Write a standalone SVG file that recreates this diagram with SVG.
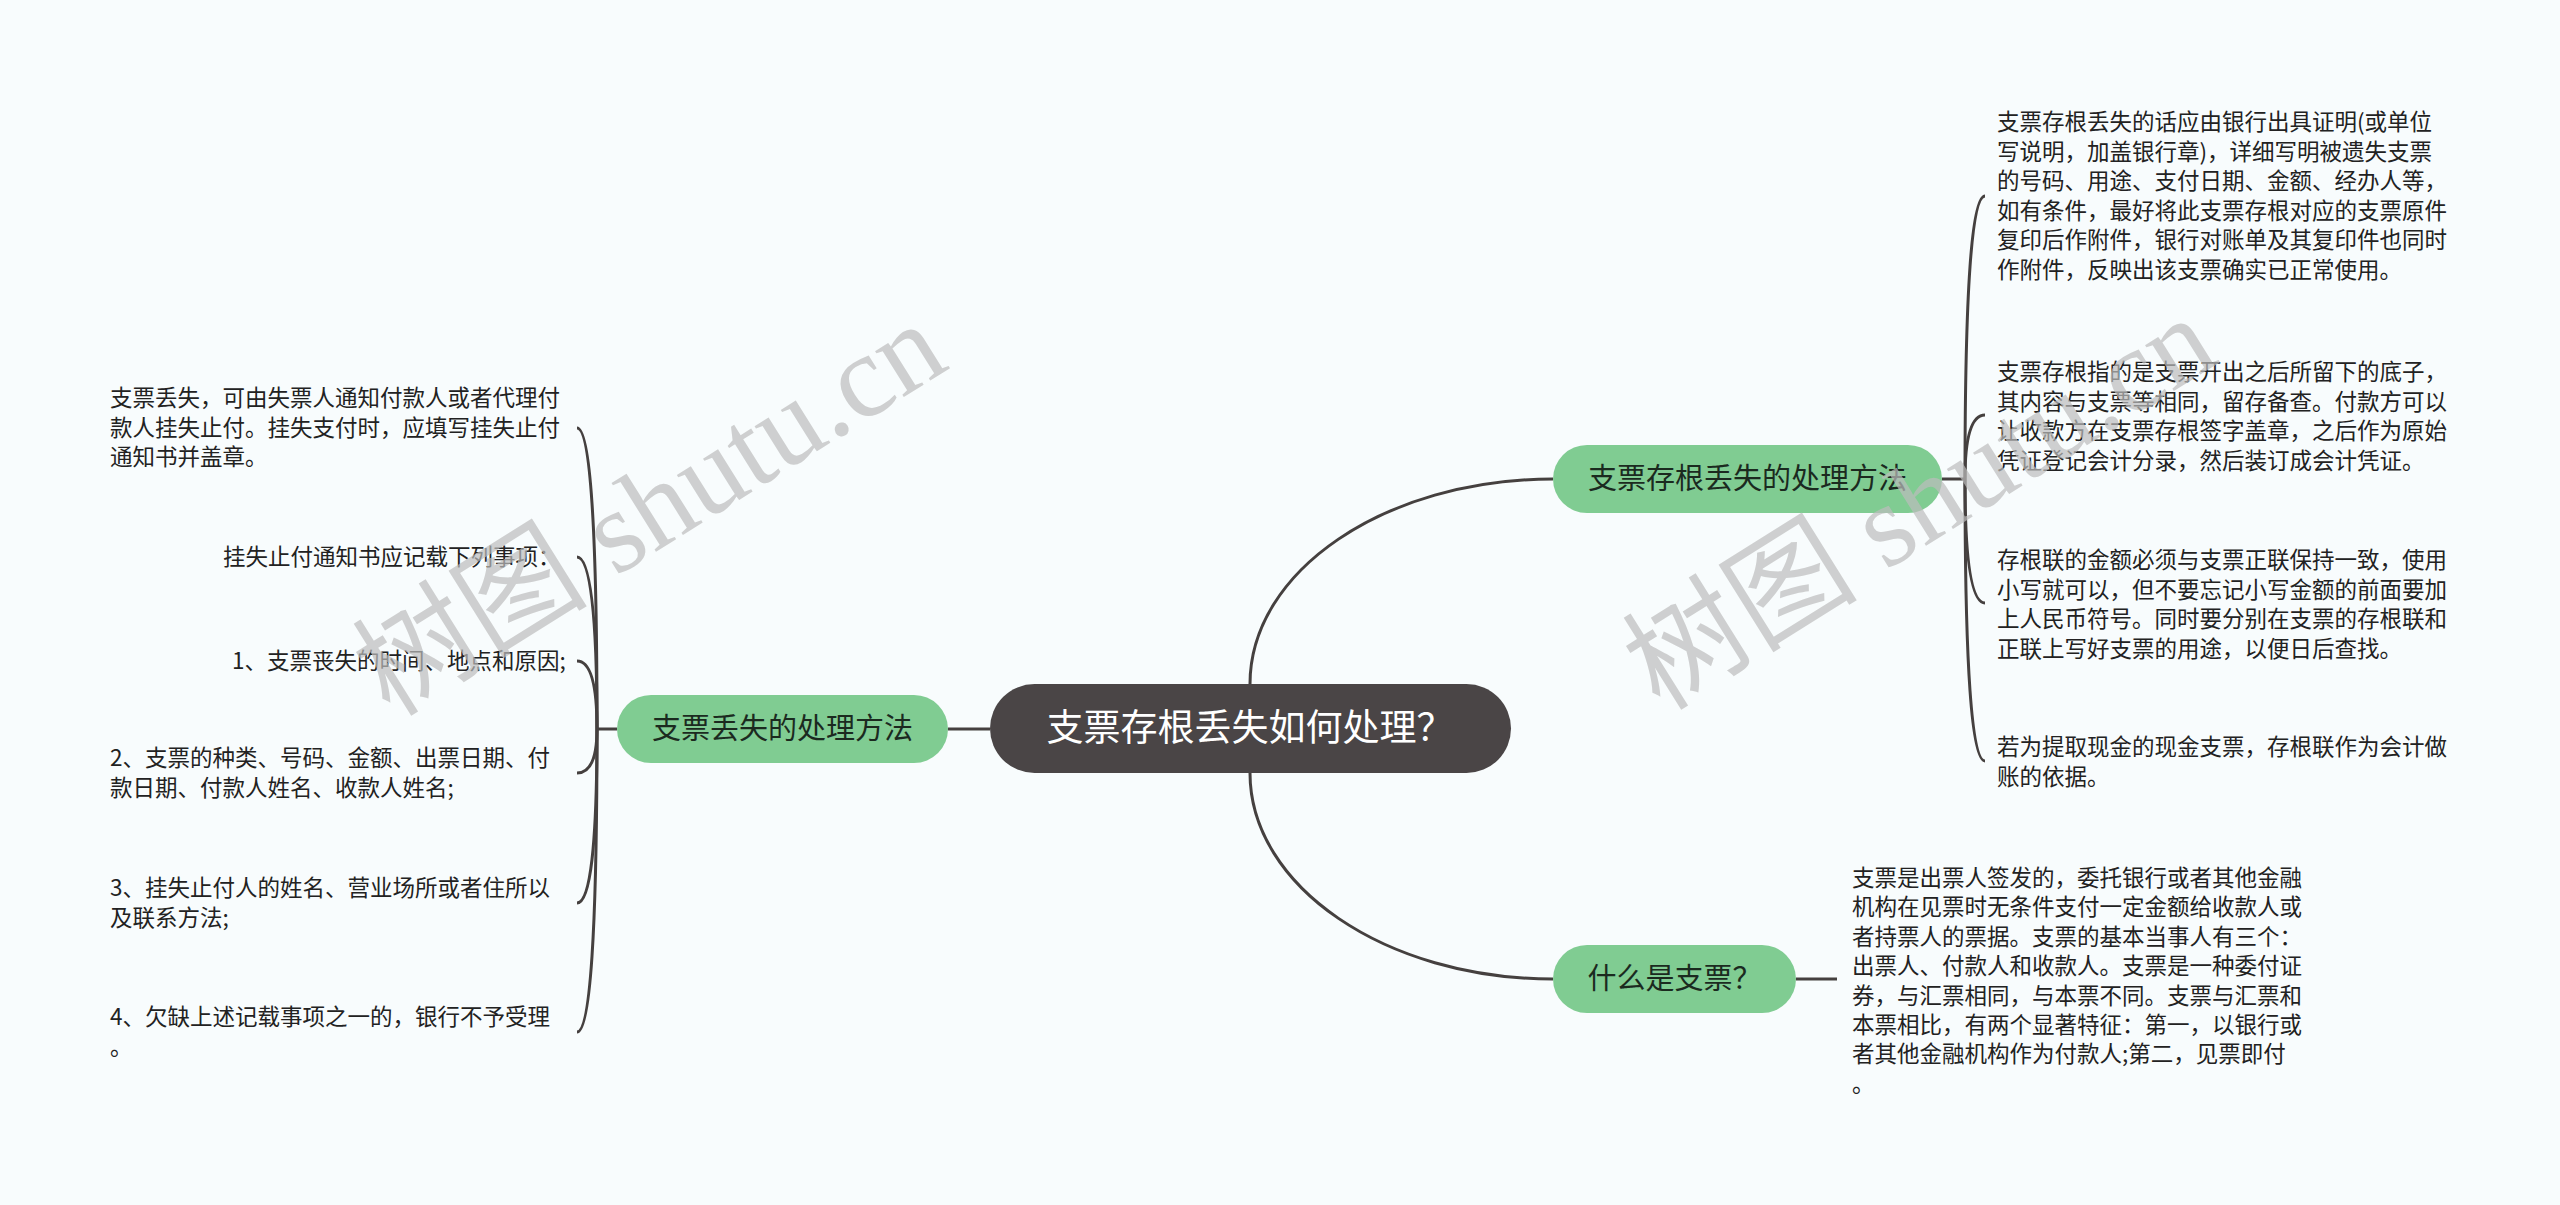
<svg xmlns="http://www.w3.org/2000/svg" width="2560" height="1205" viewBox="0 0 2560 1205">
<style>
.t{font-family:"Noto Sans CJK SC","Noto Sans",sans-serif;font-size:22.5px;fill:#222}
.g{fill:#80cc92}
.gt{font-family:"Noto Sans CJK SC","Noto Sans",sans-serif;font-size:29px;fill:#1b2a1f;text-anchor:middle}
.c{fill:none;stroke:#45403f;stroke-width:3}
.wm{font-family:"Liberation Serif","Noto Sans CJK SC",serif;font-size:118px;fill:#bdbdbd;opacity:0.7}
</style>
<rect width="2560" height="1205" fill="#f8fcfd"/>
<g id="connectors">
<path class="c" d="M990 729 L948 729"/>
<path class="c" d="M617 729 L597 729"/>
<path class="c" d="M597 729 Q597 428 577 428"/>
<path class="c" d="M597 729 Q597 557 577 557"/>
<path class="c" d="M597 729 Q597 661 577 661"/>
<path class="c" d="M597 729 Q597 773 577 773"/>
<path class="c" d="M597 729 Q597 903 577 903"/>
<path class="c" d="M597 729 Q597 1032 577 1032"/>
<path class="c" d="M1250 684 C1250 571 1385 479 1553 479"/>
<path class="c" d="M1250 773 C1250 886 1385 979 1553 979"/>
<path class="c" d="M1942 479 L1965 479"/>
<path class="c" d="M1965 479 Q1965 196 1985 196"/>
<path class="c" d="M1965 479 Q1965 415 1985 415"/>
<path class="c" d="M1965 479 Q1965 603 1985 603"/>
<path class="c" d="M1965 479 Q1965 761 1985 761"/>
<path class="c" d="M1796 979 L1837 979"/>
</g>
<g id="center">
<rect x="990" y="684" width="521" height="89" rx="44.5" fill="#4a4546"/>
<text x="1250" y="741" font-family="Noto Sans CJK SC,sans-serif" font-size="37" fill="#ffffff" text-anchor="middle">支票存根丢失如何处理？</text>
</g>
<g id="n-left">
<rect class="g" x="617" y="695" width="331" height="68" rx="34"/>
<text class="gt" x="782.5" y="739">支票丢失的处理方法</text>
</g>
<g id="n-right-top">
<rect class="g" x="1553" y="445" width="389" height="68" rx="34"/>
<text class="gt" x="1747.5" y="489">支票存根丢失的处理方法</text>
</g>
<g id="n-right-bottom">
<rect class="g" x="1553" y="945" width="243" height="68" rx="34"/>
<text class="gt" x="1674.5" y="989">什么是支票？</text>
</g>
<g id="r1">
<text class="t" x="1997" y="130"><tspan x="1997">支票存根丢失的话应由银行出具证明(或单位</tspan><tspan x="1997" dy="29.5">写说明，加盖银行章)，详细写明被遗失支票</tspan><tspan x="1997" dy="29.5">的号码、用途、支付日期、金额、经办人等，</tspan><tspan x="1997" dy="29.5">如有条件，最好将此支票存根对应的支票原件</tspan><tspan x="1997" dy="29.5">复印后作附件，银行对账单及其复印件也同时</tspan><tspan x="1997" dy="29.5">作附件，反映出该支票确实已正常使用。</tspan></text>
</g>
<g id="r2">
<text class="t" x="1997" y="380"><tspan x="1997">支票存根指的是支票开出之后所留下的底子，</tspan><tspan x="1997" dy="29.5">其内容与支票等相同，留存备查。付款方可以</tspan><tspan x="1997" dy="29.5">让收款方在支票存根签字盖章，之后作为原始</tspan><tspan x="1997" dy="29.5">凭证登记会计分录，然后装订成会计凭证。</tspan></text>
</g>
<g id="r3">
<text class="t" x="1997" y="568"><tspan x="1997">存根联的金额必须与支票正联保持一致，使用</tspan><tspan x="1997" dy="29.5">小写就可以，但不要忘记小写金额的前面要加</tspan><tspan x="1997" dy="29.5">上人民币符号。同时要分别在支票的存根联和</tspan><tspan x="1997" dy="29.5">正联上写好支票的用途，以便日后查找。</tspan></text>
</g>
<g id="r4">
<text class="t" x="1997" y="755"><tspan x="1997">若为提取现金的现金支票，存根联作为会计做</tspan><tspan x="1997" dy="29.5">账的依据。</tspan></text>
</g>
<g id="r5">
<text class="t" x="1852" y="886"><tspan x="1852">支票是出票人签发的，委托银行或者其他金融</tspan><tspan x="1852" dy="29.4">机构在见票时无条件支付一定金额给收款人或</tspan><tspan x="1852" dy="29.4">者持票人的票据。支票的基本当事人有三个：</tspan><tspan x="1852" dy="29.4">出票人、付款人和收款人。支票是一种委付证</tspan><tspan x="1852" dy="29.4">券，与汇票相同，与本票不同。支票与汇票和</tspan><tspan x="1852" dy="29.4">本票相比，有两个显著特征：第一，以银行或</tspan><tspan x="1852" dy="29.4">者其他金融机构作为付款人;第二，见票即付</tspan><tspan x="1852" dy="29.4">。</tspan></text>
</g>
<g id="l1">
<text class="t" x="110" y="406"><tspan x="110">支票丢失，可由失票人通知付款人或者代理付</tspan><tspan x="110" dy="29.5">款人挂失止付。挂失支付时，应填写挂失止付</tspan><tspan x="110" dy="29.5">通知书并盖章。</tspan></text>
</g>
<g id="l2">
<text class="t" x="223" y="565">挂失止付通知书应记载下列事项：</text>
</g>
<g id="l3">
<text class="t" x="232" y="669">1、支票丧失的时间、地点和原因;</text>
</g>
<g id="l4">
<text class="t" x="110" y="766"><tspan x="110">2、支票的种类、号码、金额、出票日期、付</tspan><tspan x="110" dy="29.5">款日期、付款人姓名、收款人姓名;</tspan></text>
</g>
<g id="l5">
<text class="t" x="110" y="896"><tspan x="110">3、挂失止付人的姓名、营业场所或者住所以</tspan><tspan x="110" dy="29.5">及联系方法;</tspan></text>
</g>
<g id="l6">
<text class="t" x="110" y="1025"><tspan x="110">4、欠缺上述记载事项之一的，银行不予受理</tspan><tspan x="110" dy="29.5">。</tspan></text>
</g>
<g id="watermarks">
<text class="wm" transform="translate(390 718) rotate(-32)">树图 shutu.cn</text>
<text class="wm" transform="translate(1660 712) rotate(-32)">树图 shutu.cn</text>
</g>
</svg>
